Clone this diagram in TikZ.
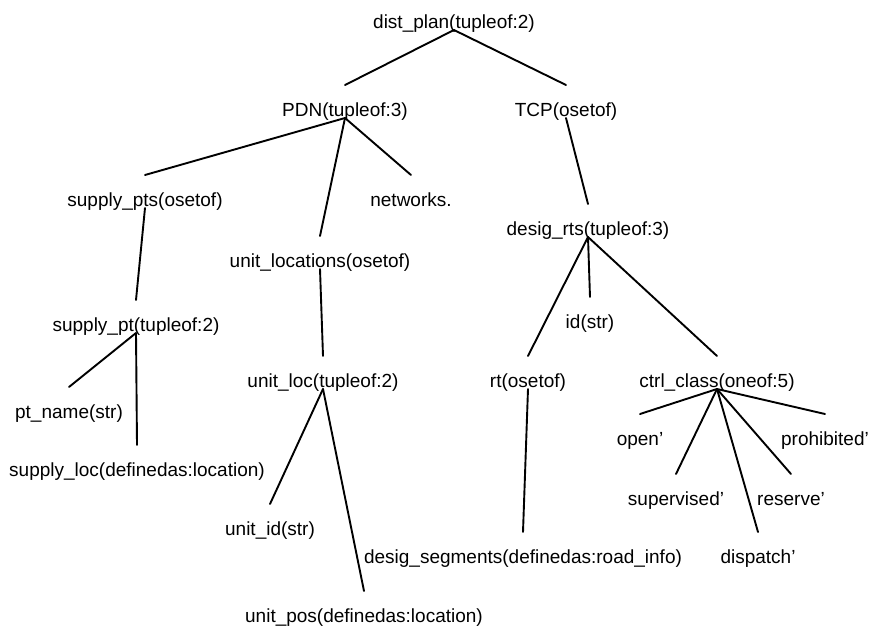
\documentclass[tikz,border=0pt]{standalone}
\usepackage{fontspec}
\setmainfont{Liberation Sans}
\begin{document}
\begin{tikzpicture}[x=1pt,y=1pt,
  lbl/.style={anchor=base,inner sep=0pt,font=\fontsize{19}{22}\selectfont},
  edge/.style={line width=1.9pt,line cap=round}]
\useasboundingbox (0,0) rectangle (870,-632);
\node[lbl] (dist) at (454,-28) {dist\_plan(tupleof:2)};
\node[lbl] (pdn) at (345,-116) {PDN(tupleof:3)};
\node[lbl] (tcp) at (566,-116) {TCP(osetof)};
\node[lbl] (spts) at (145,-206) {supply\_pts(osetof)};
\node[lbl] (net) at (411,-206) {networks.};
\node[lbl] (ulocs) at (320,-267) {unit\_locations(osetof)};
\node[lbl] (drts) at (588,-235) {desig\_rts(tupleof:3)};
\node[lbl] (spt) at (136,-331) {supply\_pt(tupleof:2)};
\node[lbl] (id) at (590,-328) {id(str)};
\node[lbl] (uloc) at (323,-387) {unit\_loc(tupleof:2)};
\node[lbl] (rt) at (528,-387) {rt(osetof)};
\node[lbl] (cc) at (717,-387) {ctrl\_class(oneof:5)};
\node[lbl] (ptn) at (69,-418) {pt\_name(str)};
\node[lbl] (sloc) at (137,-476) {supply\_loc(definedas:location)};
\node[lbl] (open) at (640,-445) {open'};
\node[lbl] (proh) at (825,-445) {prohibited'};
\node[lbl] (sup) at (676,-505) {supervised'};
\node[lbl] (res) at (791,-505) {reserve'};
\node[lbl] (disp) at (758,-563) {dispatch'};
\node[lbl] (dseg) at (523,-563) {desig\_segments(definedas:road\_info)};
\node[lbl] (uid) at (270,-535) {unit\_id(str)};
\node[lbl] (upos) at (364,-622) {unit\_pos(definedas:location)};
\foreach \p/\c in {dist/pdn,dist/tcp,pdn/spts,pdn/ulocs,pdn/net,tcp/drts,
  spts/spt,spt/ptn,spt/sloc,ulocs/uloc,uloc/uid,uloc/upos,
  drts/rt,drts/id,drts/cc,rt/dseg,cc/open,cc/sup,cc/disp,cc/res,cc/proh}
  \draw[edge] ([yshift=-2pt]\p.base) -- ([yshift=31pt]\c.base);
\end{tikzpicture}
\end{document}
